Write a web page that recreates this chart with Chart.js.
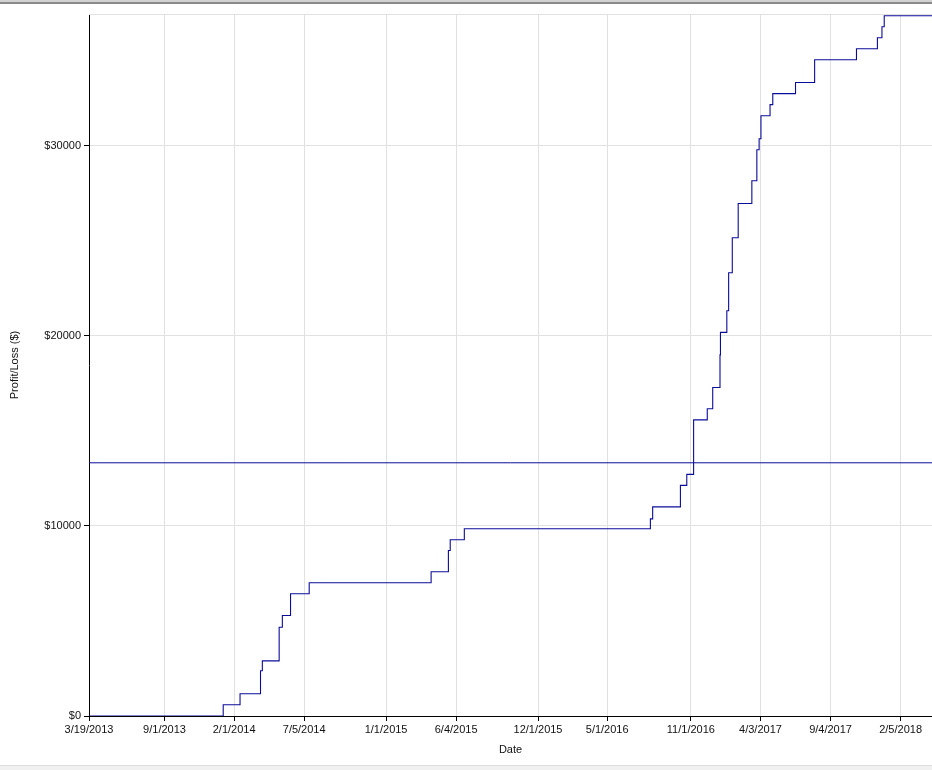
<!DOCTYPE html>
<html>
<head>
<meta charset="utf-8">
<title>Profit/Loss</title>
<script src="https://cdn.jsdelivr.net/npm/chart.js@4.4.0/dist/chart.umd.min.js"></script>
<style>
    html, body { margin: 0; padding: 0; background: #fff; }
    #wrap { position: relative; width: 932px; height: 770px; overflow: hidden; }
    #topBar { position: absolute; left: 0; top: 0; width: 932px; height: 4px;
        background: linear-gradient(#d2d2d2 0, #d2d2d2 2px, #8a8a8a 2px, #8a8a8a 4px); }
    #bottomBar { position: absolute; left: 0; top: 765px; width: 932px; height: 5px;
        background: #f0f0f0; border-top: 1px solid #dcdcdc; box-sizing: border-box; }
    canvas { position: absolute; left: 0; top: 0; }
</style>
</head>
<body>
<div id="wrap">
    <canvas id="pnlChart" width="932" height="770"></canvas>
    <div id="topBar"></div>
    <div id="bottomBar"></div>
</div>
<script>
// Equity curve: date of each change and the running profit/loss after it
const tradeDates = [
    '3/19/2013', '1/8/2014', '2/14/2014', '3/31/2014', '4/4/2014', '5/11/2014', '5/18/2014',
    '6/5/2014', '7/16/2014', '4/10/2015', '5/18/2015', '5/22/2015', '6/22/2015', '8/4/2016',
    '8/9/2016', '10/9/2016', '10/23/2016', '11/7/2016', '12/7/2016', '12/19/2016', '1/4/2017',
    '1/5/2017', '1/19/2017', '1/23/2017', '1/31/2017', '2/13/2017', '3/15/2017', '3/26/2017',
    '3/31/2017', '4/4/2017', '4/24/2017', '4/30/2017', '6/19/2017', '7/31/2017', '10/31/2017',
    '12/16/2017', '12/26/2017', '12/31/2017', '4/15/2018'
];
const cumulativePnl = [
    0, 590, 1170, 2380, 2900, 4670, 5290,
    6430, 7010, 7590, 8710, 9270, 9850, 10370,
    11000, 12130, 12710, 15580, 16160, 17280, 19000,
    20180, 21320, 23320, 25160, 26960, 28160, 29790,
    30370, 31580, 32160, 32740, 33330, 34520, 35100,
    35680, 36260, 36840, 36840
];

// Horizontal reference level
const averageLevel = 13320;

// Axis ticks
const xTickLabels = [
    '3/19/2013', '9/1/2013', '2/1/2014', '7/5/2014', '1/1/2015', '6/4/2015',
    '12/1/2015', '5/1/2016', '11/1/2016', '4/3/2017', '9/4/2017', '2/5/2018'
];
const yTickValues = [0, 10000, 20000, 30000];
const yAxisMax = 36930;

document.addEventListener('DOMContentLoaded', () => {
    initChart();
});

function parseDate(s) {
    const [m, d, y] = s.split('/').map(Number);
    return Date.UTC(y, m - 1, d);
}

function initChart() {
    Chart.defaults.font.family = '"Liberation Sans", Arial, sans-serif';
    Chart.defaults.font.size = 11;
    Chart.defaults.color = '#111';

    const lineColor = '#0c0c9a';
    const gridColor = '#e1e1e1';

    const xMin = parseDate(tradeDates[0]);
    const xMax = parseDate(tradeDates[tradeDates.length - 1]);

    const equityPoints = tradeDates.map((d, i) => ({ x: parseDate(d), y: cumulativePnl[i] }));
    const averagePoints = [{ x: xMin, y: averageLevel }, { x: xMax, y: averageLevel }];

    // light line along the top of the plot area
    const topGridLine = {
        id: 'topGridLine',
        beforeDatasetsDraw(chart) {
            const { ctx, chartArea } = chart;
            ctx.save();
            ctx.strokeStyle = gridColor;
            ctx.lineWidth = 1;
            ctx.beginPath();
            ctx.moveTo(chartArea.left, chartArea.top + 0.5);
            ctx.lineTo(chartArea.right, chartArea.top + 0.5);
            ctx.stroke();
            ctx.restore();
        }
    };

    const ctx = document.getElementById('pnlChart').getContext('2d');
    new Chart(ctx, {
        type: 'line',
        data: {
            datasets: [
                {
                    label: 'Profit/Loss',
                    data: equityPoints,
                    borderColor: lineColor,
                    borderWidth: 1.1,
                    stepped: 'before',
                    pointRadius: 0,
                    fill: false
                },
                {
                    label: 'Average',
                    data: averagePoints,
                    borderColor: lineColor,
                    borderWidth: 1,
                    pointRadius: 0,
                    fill: false
                }
            ]
        },
        options: {
            responsive: false,
            animation: false,
            layout: { padding: { top: 14, left: 0, right: 0, bottom: 0 } },
            plugins: {
                legend: { display: false },
                tooltip: { enabled: false }
            },
            scales: {
                x: {
                    type: 'linear',
                    min: xMin,
                    max: xMax,
                    afterBuildTicks: axis => {
                        axis.ticks = xTickLabels.map(s => ({ value: parseDate(s) }));
                    },
                    afterFit: axis => { axis.height = 54; },
                    grid: { color: gridColor, tickColor: '#000', tickLength: 5 },
                    border: { color: '#000', width: 1 },
                    ticks: {
                        padding: 2,
                        maxRotation: 0,
                        autoSkip: false,
                        callback: (value, index) => xTickLabels[index]
                    },
                    title: {
                        display: true,
                        text: 'Date',
                        padding: { top: 0, bottom: 13 }
                    }
                },
                y: {
                    min: 0,
                    max: yAxisMax,
                    afterBuildTicks: axis => {
                        axis.ticks = yTickValues.map(v => ({ value: v }));
                    },
                    afterFit: axis => { axis.width = 89; },
                    grid: { color: gridColor, tickColor: '#000', tickLength: 5 },
                    border: { color: '#000', width: 1 },
                    ticks: {
                        padding: 3,
                        callback: v => '$' + v
                    },
                    title: {
                        display: true,
                        text: 'Profit/Loss ($)',
                        padding: { top: 8, bottom: 0 }
                    }
                }
            }
        },
        plugins: [topGridLine]
    });
}
</script>
</body>
</html>
